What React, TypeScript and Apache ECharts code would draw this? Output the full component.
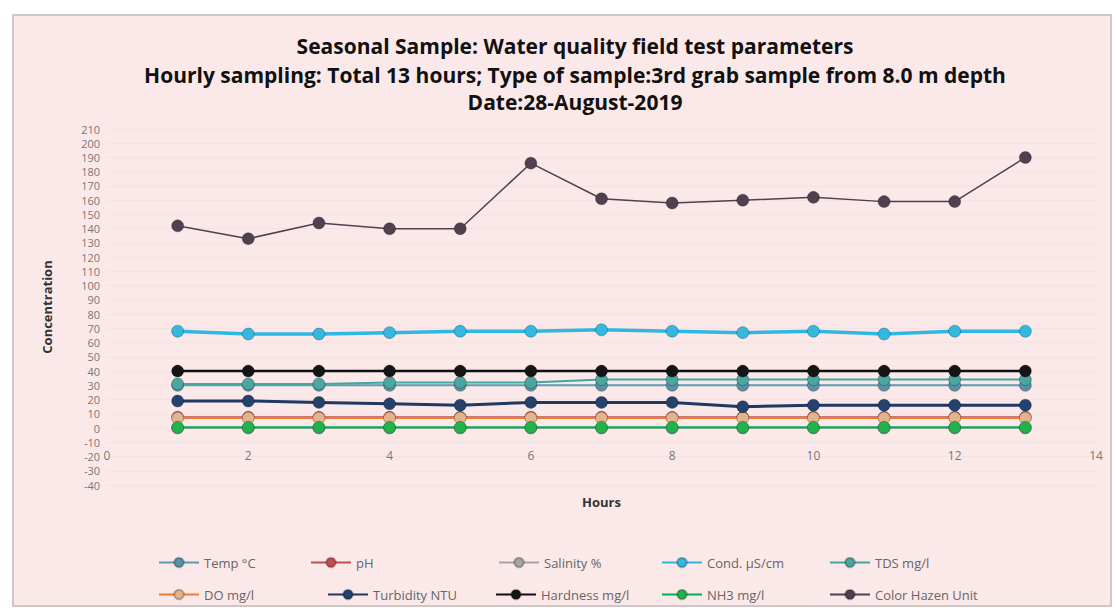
import React, { useEffect, useRef } from "react";
import * as echarts from "echarts";

const hours = [1, 2, 3, 4, 5, 6, 7, 8, 9, 10, 11, 12, 13];
const seriesNames = [
  "Temp °C",
  "pH",
  "Salinity %",
  "Cond. µS/cm",
  "TDS mg/l",
  "DO mg/l",
  "Turbidity NTU",
  "Hardness mg/l",
  "NH3 mg/l",
  "Color Hazen Unit",
];
const temp = [30, 30, 30, 30, 30, 30, 30, 30, 30, 30, 30, 30, 30];
const ph = [7.6, 7.6, 7.5, 7.6, 7.5, 7.6, 7.6, 7.5, 7.6, 7.6, 7.5, 7.6, 7.6];
const salinity = [0.03, 0.03, 0.03, 0.03, 0.03, 0.03, 0.03, 0.03, 0.03, 0.03, 0.03, 0.03, 0.03];
const cond = [68, 66, 66, 67, 68, 68, 69, 68, 67, 68, 66, 68, 68];
const tds = [31, 31, 31, 32, 32, 32, 34, 34, 34, 34, 34, 34, 34];
const dissolvedOxygen = [7, 7, 7, 7, 7, 7, 7, 7, 7, 7, 7, 7, 7];
const turbidity = [19, 19, 18, 17, 16, 18, 18, 18, 15, 16, 16, 16, 16];
const hardness = [40, 40, 40, 40, 40, 40, 40, 40, 40, 40, 40, 40, 40];
const nh3 = [0.5, 0.5, 0.5, 0.5, 0.5, 0.5, 0.5, 0.5, 0.5, 0.5, 0.5, 0.5, 0.5];
const colorHazen = [142, 133, 144, 140, 140, 186, 161, 158, 160, 162, 159, 159, 190];

const seriesValues = [temp, ph, salinity, cond, tds, dissolvedOxygen, turbidity, hardness, nh3, colorHazen];
const lineColors = ["#5b9bb5", "#c0504d", "#a5a5a5", "#2fb6e3", "#45a6a0", "#ed7d31", "#1f3864", "#111111", "#00b050", "#4f4150"];
const markerColors = ["#5a8fa5", "#c0504d", "#a5a5a5", "#34b8e0", "#4aa69f", "#e2b48c", "#24426e", "#151515", "#22b24c", "#4f4150"];
const lineWidths = [2, 2, 2, 3.5, 2, 2, 3, 2.5, 2, 1.5];

const legendPos = [
  [153, 551], [305, 551], [493, 551], [656, 551], [824, 551],
  [153, 583], [322, 583], [490, 583], [656, 583], [824, 583],
];

const FONT = "'Open Sans', 'Liberation Sans', sans-serif";

export default function App() {
  const ref = useRef<HTMLDivElement>(null);
  useEffect(() => {
    if (!ref.current) return;
    const chart = echarts.init(ref.current, null, { renderer: "svg" });
    const series = seriesNames.map((name, k) => ({
      name,
      type: "line",
      data: hours.map((h, i) => [h, seriesValues[k][i]]),
      symbol: "circle",
      symbolSize: 12,
      lineStyle: { color: lineColors[k], width: lineWidths[k] },
      itemStyle: { color: markerColors[k], borderColor: "rgba(0,0,0,0.25)", borderWidth: 1 },
      z: 2 + k,
    }));
    const legends = seriesNames.map((name, k) => ({
      data: [name],
      left: legendPos[k][0],
      top: legendPos[k][1],
      itemWidth: 40,
      itemHeight: 12,
      textStyle: { fontSize: 13, color: "#666", fontFamily: FONT },
    }));
    const titleStyle = (text: string) => ({
      text,
      font: `bold 21px ${FONT}`,
      fill: "#111",
      textAlign: "center",
      textVerticalAlign: "middle",
    });
    chart.setOption({
      animation: false,
      backgroundColor: "#ffffff",
      textStyle: { fontFamily: FONT },
      grid: { left: 107, right: 21, top: 129, bottom: 125 },
      graphic: [
        {
          type: "rect",
          z: -10,
          shape: { x: 13, y: 15, width: 1098, height: 591 },
          style: { fill: "#fbe9e9", stroke: "#cfc6c6", lineWidth: 2 },
          silent: true,
        },
        { type: "text", x: 575, y: 46, style: titleStyle("Seasonal Sample: Water quality field test parameters") },
        { type: "text", x: 575, y: 75, style: titleStyle("Hourly sampling: Total 13 hours; Type of sample:3rd grab sample from 8.0 m depth") },
        { type: "text", x: 575, y: 102, style: titleStyle("Date:28-August-2019") },
      ],
      legend: legends,
      xAxis: {
        type: "value",
        min: 0,
        max: 14,
        interval: 2,
        name: "Hours",
        nameLocation: "middle",
        nameGap: 10,
        nameTextStyle: { fontSize: 13, fontWeight: "bold", color: "#333" },
        axisLine: { show: false },
        axisTick: { show: false },
        splitLine: { show: false },
        axisLabel: { margin: -36, fontSize: 12, color: "#777" },
      },
      yAxis: {
        type: "value",
        min: -40,
        max: 210,
        interval: 10,
        name: "Concentration",
        nameLocation: "middle",
        nameGap: 54,
        nameTextStyle: { fontSize: 13, fontWeight: "bold", color: "#333" },
        axisLine: { show: false },
        axisTick: { show: false },
        splitLine: { show: true, lineStyle: { color: "#f4e1e1", width: 1 } },
        axisLabel: { margin: 7, fontSize: 11, color: "#777" },
      },
      series,
    });
    return () => chart.dispose();
  }, []);
  return (
    <div
      ref={ref}
      style={{ position: "fixed", left: 0, top: 0, width: 1117, height: 610 }}
    />
  );
}
